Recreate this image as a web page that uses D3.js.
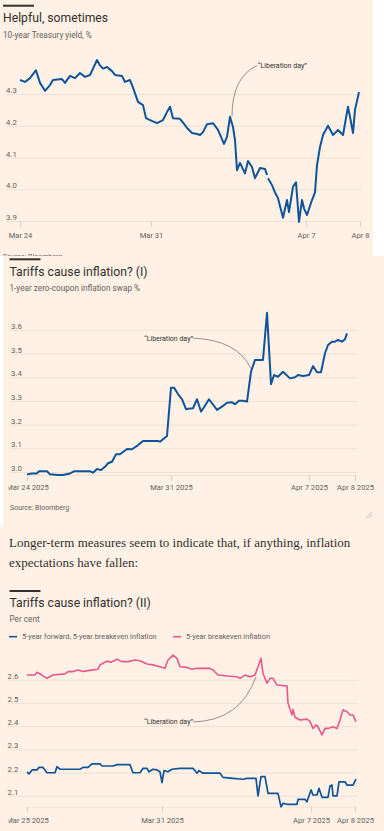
<!DOCTYPE html>
<html>
<head>
<meta charset="utf-8">
<script src="https://cdn.jsdelivr.net/npm/d3@7"></script>
<style>
html, body { margin: 0; padding: 0; background: #fff1e5; }
svg { display: block; }
</style>
</head>
<body>
<div id="page"></div>
<script>
// ---- data ----
// x = observation index (trading time), y = value

// chart 1: 10-year Treasury yield, %
var treasuryTicks = [0, 131, 286, 340];
var treasuryTickLabels = ["Mar 24", "Mar 31", "Apr 7", "Apr 8"];
var treasuryYTicks = [3.9, 4.0, 4.1, 4.2, 4.3];
var treasury10y = [
	[0, 4.344], [5, 4.338], [10, 4.35], [16, 4.375], [20, 4.335], [25, 4.31], [30, 4.328],
	[33, 4.344], [42, 4.347], [45, 4.335], [50, 4.357], [55, 4.35], [60, 4.366], [65, 4.354],
	[70, 4.36], [73, 4.38], [77, 4.407], [80, 4.39], [83, 4.38], [87, 4.385], [92, 4.372],
	[95, 4.36], [102, 4.357], [105, 4.338], [110, 4.344], [113, 4.32], [118, 4.275], [123, 4.265],
	[126, 4.224], [130, 4.218], [137, 4.208], [143, 4.218], [147, 4.243], [150, 4.26], [153, 4.224],
	[160, 4.222], [165, 4.202], [167, 4.193], [172, 4.177], [177, 4.174], [180, 4.171], [183, 4.18],
	[187, 4.205], [193, 4.208], [198, 4.187], [204, 4.143], [207, 4.165], [210, 4.228], [213, 4.196],
	[215, 4.155], [217, 4.06], [220, 4.083], [225, 4.05], [228, 4.089], [232, 4.07], [235, 4.035],
	[240, 4.067], [245, 4.064], [247, 4.045], [247.5, null], [248, 4.035], [252, 4.013], [255, 3.99],
	[258, 3.972], [263, 3.91], [267, 3.966], [269, 3.928], [273, 4.008], [276, 4.022], [279, 3.897],
	[282, 3.966], [284, 3.94], [287, 3.919], [292, 3.966], [295, 3.99], [297, 4.076], [300, 4.133],
	[303, 4.171], [308, 4.2], [313, 4.171], [318, 4.187], [323, 4.171], [328, 4.26], [330, 4.228],
	[333, 4.177], [335, 4.25], [339, 4.306]
];

// chart 2: 1-year zero-coupon inflation swap %
var swapTicks = [0, 144, 282, 328];
var swapTickLabels = ["Mar 24 2025", "Mar 31 2025", "Apr 7 2025", "Apr 8 2025"];
var swapYTicks = [3.0, 3.1, 3.2, 3.3, 3.4, 3.5, 3.6];
var swap1y = [
	[0, 2.99], [5, 2.994], [10, 2.994], [12, 3.003], [20, 3.003], [23, 2.99], [31, 2.987],
	[36, 2.987], [43, 2.994], [47, 3.003], [63, 3.003], [66, 2.997], [70, 3.013], [74, 3.008],
	[78, 3.022], [81, 3.037], [85, 3.043], [89, 3.075], [93, 3.075], [100, 3.097], [105, 3.096],
	[110, 3.11], [116, 3.131], [131, 3.131], [133, 3.128], [140, 3.152], [144, 3.356], [147, 3.356],
	[151, 3.329], [155, 3.307], [159, 3.265], [161, 3.267], [166, 3.269], [170, 3.307], [174, 3.255],
	[177, 3.273], [182, 3.307], [190, 3.262], [195, 3.276], [200, 3.292], [205, 3.294], [208, 3.286],
	[212, 3.301], [216, 3.301], [220, 3.297], [224, 3.423], [228, 3.473], [236, 3.473], [240, 3.672],
	[244, 3.371], [247, 3.409], [251, 3.402], [256, 3.423], [263, 3.395], [268, 3.4], [271, 3.409],
	[276, 3.405], [282, 3.409], [286, 3.447], [290, 3.421], [294, 3.421], [298, 3.501], [301, 3.536],
	[305, 3.55], [308, 3.55], [311, 3.557], [315, 3.55], [318, 3.56], [320, 3.585]
];

// chart 3: breakevens, per cent
var beTicks = [0, 135, 284, 328];
var beTickLabels = ["Mar 25 2025", "Mar 31 2025", "Apr 7 2025", "Apr 8 2025"];
var beYTicks = [2.1, 2.2, 2.3, 2.4, 2.5, 2.6];
var beNames = ["5-year forward, 5-year breakeven inflation", "5-year breakeven inflation"];
var fwd5y5y = [
	[0, 2.203], [2, 2.194], [5, 2.211], [10, 2.211], [12, 2.222], [16, 2.222], [20, 2.199],
	[28, 2.199], [30, 2.225], [33, 2.214], [53, 2.214], [56, 2.222], [61, 2.222], [65, 2.237],
	[73, 2.237], [75, 2.228], [86, 2.228], [90, 2.234], [103, 2.234], [106, 2.199], [113, 2.199],
	[116, 2.218], [120, 2.218], [122, 2.203], [126, 2.214], [130, 2.211], [133, 2.203], [135, 2.156],
	[137, 2.208], [141, 2.203], [145, 2.214], [153, 2.218], [166, 2.218], [170, 2.197], [172, 2.208],
	[176, 2.197], [193, 2.197], [196, 2.179], [206, 2.175], [216, 2.171], [220, 2.175], [229, 2.175],
	[231, 2.099], [234, 2.182], [238, 2.182], [241, 2.11], [251, 2.11], [254, 2.052], [256, 2.067],
	[260, 2.063], [270, 2.063], [271, 2.084], [278, 2.084], [280, 2.074], [284, 2.125], [286, 2.103],
	[290, 2.103], [292, 2.132], [295, 2.093], [301, 2.093], [303, 2.142], [305, 2.146], [306, 2.099],
	[310, 2.099], [312, 2.16], [318, 2.16], [320, 2.146], [326, 2.146], [329, 2.171]
];
var breakeven5y = [
	[0, 2.62], [8, 2.62], [10, 2.632], [15, 2.62], [20, 2.606], [26, 2.62], [38, 2.625],
	[41, 2.635], [46, 2.635], [51, 2.642], [56, 2.635], [61, 2.639], [71, 2.645], [73, 2.664],
	[76, 2.671], [80, 2.68], [84, 2.675], [90, 2.688], [95, 2.678], [101, 2.678], [108, 2.685],
	[113, 2.682], [120, 2.668], [126, 2.664], [133, 2.656], [138, 2.649], [141, 2.685], [146, 2.706],
	[150, 2.692], [153, 2.656], [160, 2.653], [165, 2.645], [170, 2.649], [183, 2.649], [186, 2.642],
	[191, 2.62], [200, 2.616], [210, 2.613], [213, 2.606], [218, 2.62], [223, 2.613], [228, 2.62],
	[231, 2.656], [234, 2.692], [236, 2.627], [240, 2.585], [243, 2.606], [246, 2.606], [250, 2.577],
	[260, 2.573], [261, 2.498], [265, 2.448], [266, 2.472], [268, 2.438], [273, 2.426], [280, 2.43],
	[283, 2.419], [286, 2.39], [289, 2.405], [291, 2.397], [295, 2.362], [298, 2.39], [301, 2.39],
	[306, 2.397], [310, 2.39], [313, 2.426], [316, 2.47], [320, 2.462], [323, 2.448], [326, 2.448],
	[329, 2.419]
];

// ---- style ----
var BG = "#fff1e5",
	BLUE = "#0f5499",
	PINK = "#e9578a",
	INK = "#33302e",
	GREY = "#66605c",
	GRID = "#ede0d5",
	SANS = "Roboto, 'Liberation Sans', sans-serif";

var W = 384, H = 831;

var svg = d3.select("#page")
	.append("svg")
	.attr("width", W)
	.attr("height", H);

svg.append("rect").attr("width", W).attr("height", H).attr("fill", BG);

var defs = svg.append("defs");

// draws one FT style line chart
function drawChart(c) {
	var g = svg.append("g");

	var x = d3.scaleLinear().domain(c.xDomain).range(c.xRange);
	var y = d3.scaleLinear().domain(c.yDomain).range(c.yRange);

	// gridlines + labels sitting on top of them
	var ya = g.append("g")
		.attr("transform", "translate(" + c.gridX[0] + ",0)")
		.call(d3.axisRight(y)
			.tickValues(c.yTicks)
			.tickSize(c.gridX[1] - c.gridX[0])
			.tickFormat(d3.format(".1f")));
	ya.select(".domain").remove();
	ya.selectAll("line").attr("stroke", GRID).attr("stroke-width", 1);
	ya.selectAll("text")
		.attr("x", c.labelX - c.gridX[0])
		.attr("dy", -1.5)
		.attr("text-anchor", "start")
		.attr("fill", GREY)
		.style("font", "7.8px " + SANS);

	// x axis
	var clipId = "clip" + c.id;
	defs.append("clipPath").attr("id", clipId)
		.append("rect").attr("x", c.clipLeft).attr("y", 0).attr("width", W).attr("height", H);

	var xa = g.append("g")
		.attr("transform", "translate(0," + c.axisY + ")")
		.attr("clip-path", "url(#" + clipId + ")")
		.call(d3.axisBottom(x)
			.tickValues(c.xTicks)
			.tickSize(6)
			.tickSizeOuter(0)
			.tickFormat(function(d, i) { return c.xLabels[i]; }));
	xa.select(".domain").attr("stroke", GRID);
	xa.selectAll("line").attr("stroke", "#ddd0c5");
	xa.selectAll("text")
		.attr("y", c.xLabelDy)
		.attr("dy", 0)
		.attr("fill", GREY)
		.style("font", "7.6px " + SANS);

	// series
	var line = d3.line()
		.defined(function(d) { return d[1] !== null; })
		.x(function(d) { return x(d[0]); })
		.y(function(d) { return y(d[1]); });

	c.series.forEach(function(s) {
		g.append("path")
			.datum(s.data)
			.attr("d", line)
			.attr("fill", "none")
			.attr("stroke", s.color)
			.attr("stroke-width", s.width)
			.attr("stroke-linejoin", "round");
	});

	// annotation
	var a = c.note;
	var p0 = [x(a.from[0]), y(a.from[1])],
		p1 = [x(a.to[0]), y(a.to[1])];
	g.append("path")
		.attr("d", "M" + p0 + "Q" + [p0[0] + a.ctrl[0], p0[1] + a.ctrl[1]] + " " + p1)
		.attr("fill", "none")
		.attr("stroke", "#6d6560")
		.attr("stroke-width", 0.7);
	g.append("text")
		.attr("x", x(a.text[0]))
		.attr("y", y(a.text[1]))
		.attr("text-anchor", a.anchor)
		.attr("fill", INK)
		.style("font", "7px " + SANS)
		.text("\u201CLiberation day\u201D");

	return g;
}

function header(yBar, xBar, title, yTitle, sub, ySub) {
	svg.append("rect").attr("x", xBar).attr("y", yBar).attr("width", 31).attr("height", 2).attr("fill", INK);
	svg.append("text").attr("x", xBar).attr("y", yTitle).attr("fill", INK)
		.style("font", "12.2px " + SANS).text(title);
	svg.append("text").attr("x", xBar).attr("y", ySub).attr("fill", GREY)
		.style("font", "8.2px " + SANS).text(sub);
}

// ---- panel 1 ----
svg.append("rect").attr("x", 373).attr("y", 0).attr("width", 11).attr("height", 256).attr("fill", "#fff");
header(4.7, 3, "Helpful, sometimes", 21.5, "10-year Treasury yield, %", 37.5);

drawChart({
	id: 1,
	xDomain: [0, 340], xRange: [20, 360],
	yDomain: [3.9, 4.3], yRange: [221, 94],
	yTicks: treasuryYTicks,
	gridX: [6, 361], labelX: 6,
	xTicks: treasuryTicks, xLabels: treasuryTickLabels,
	axisY: 221, xLabelDy: 17, clipLeft: 0,
	series: [{ data: treasury10y, color: BLUE, width: 2 }],
	note: { from: [237, 4.39], to: [212, 4.23], ctrl: [-25, 12], text: [238, 4.382], anchor: "start" }
});

svg.append("text").attr("x", 3).attr("y", 259).attr("fill", GREY)
	.style("font", "7px " + SANS).text("Source: Bloomberg");

// ---- panel 2 ----
svg.append("rect").attr("x", 0).attr("y", 256).attr("width", W).attr("height", 271).attr("fill", BG);
svg.append("rect").attr("x", 0).attr("y", 256).attr("width", 3).attr("height", 271).attr("fill", "#fff");
header(258.3, 9.5, "Tariffs cause inflation? (I)", 276, "1-year zero-coupon inflation swap %", 290.7);

drawChart({
	id: 2,
	xDomain: [0, 328], xRange: [27, 355],
	yDomain: [3.0, 3.6], yRange: [472, 329.8],
	yTicks: swapYTicks,
	gridX: [11, 357], labelX: 11,
	xTicks: swapTicks, xLabels: swapTickLabels,
	axisY: 475, xLabelDy: 15, clipLeft: 8.5,
	series: [{ data: swap1y, color: BLUE, width: 2 }],
	note: { from: [166, 3.565], to: [224, 3.435], ctrl: [45, 2], text: [166, 3.553], anchor: "end" }
});

svg.append("text").attr("x", 10).attr("y", 510).attr("fill", GREY)
	.style("font", "7px " + SANS).text("Source: Bloomberg");
// resize grip
svg.append("path").attr("d", "M366,518L372,512M369,518L372,515")
	.attr("stroke", "#bdb3aa").attr("stroke-width", 0.8);

// ---- panel 3 ----
var para = ["Longer-term measures seem to indicate that, if anything, inflation",
	"expectations have fallen:"];
svg.selectAll(".para").data(para).enter().append("text")
	.attr("class", "para")
	.attr("x", 9)
	.attr("y", function(d, i) { return 547 + i * 20; })
	.attr("fill", INK)
	.style("font", "13px 'Liberation Serif', 'DejaVu Serif', serif")
	.text(function(d) { return d; });

header(590, 9.5, "Tariffs cause inflation? (II)", 606.7, "Per cent", 622.3);

var legend = svg.append("g").selectAll("g")
	.data(beNames).enter().append("g")
	.attr("transform", function(d, i) { return "translate(" + (i === 0 ? 9 : 173) + ",636.7)"; });
legend.append("line").attr("x1", 0).attr("x2", 8)
	.attr("stroke", function(d, i) { return i === 0 ? BLUE : PINK; }).attr("stroke-width", 1.6);
legend.append("text").attr("x", 13).attr("y", 2.5).attr("fill", GREY)
	.style("font", "7.4px " + SANS).text(function(d) { return d; });

drawChart({
	id: 3,
	xDomain: [0, 329], xRange: [27, 356],
	yDomain: [2.1, 2.6], yRange: [795.7, 679.7],
	yTicks: beYTicks,
	gridX: [8, 358], labelX: 7.5,
	xTicks: beTicks, xLabels: beTickLabels,
	axisY: 806.5, xLabelDy: 16, clipLeft: 8.5,
	series: [
		{ data: breakeven5y, color: PINK, width: 1.6 },
		{ data: fwd5y5y, color: BLUE, width: 1.7 }
	],
	note: { from: [166, 2.418], to: [229, 2.612], ctrl: [47, -1], text: [166, 2.407], anchor: "end" }
});
</script>
</body>
</html>
